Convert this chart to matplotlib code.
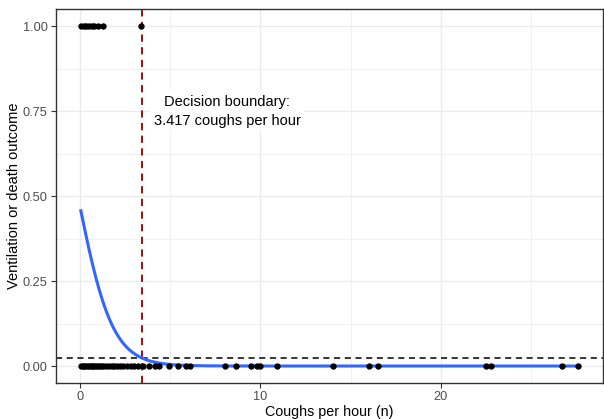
import numpy as np
import matplotlib.pyplot as plt
from matplotlib.ticker import MultipleLocator

plt.rcParams["font.family"] = ["Liberation Sans", "DejaVu Sans"]

# Observed cough rates (per hour) for patients with and without the outcome
coughs_no_event = [0.05, 0.15, 0.25, 0.35, 0.45, 0.55, 0.65, 0.75, 0.85, 0.95,
                   1.05, 1.15, 1.3, 1.45, 1.6, 1.75, 1.9, 2.05, 2.2, 2.4,
                   2.6, 2.8, 3.0, 3.2, 3.5, 3.85, 4.15, 4.4, 4.95, 5.45,
                   5.85, 6.1, 8.05, 8.65, 9.5, 9.8, 10.0, 10.9, 14.0, 16.0,
                   16.5, 22.5, 22.8, 26.7, 27.6]
coughs_event = [0.05, 0.2, 0.35, 0.5, 0.65, 0.8, 1.0, 1.25, 3.4]

# Fitted logistic regression coefficients
intercept = -0.12
slope = -1.05
boundary = 3.417
threshold = 1 / (1 + np.exp(-(intercept + slope * boundary)))

x_ticks = [0, 10, 20]
y_ticks = [0.0, 0.25, 0.5, 0.75, 1.0]
y_ticklabels = ["0.00", "0.25", "0.50", "0.75", "1.00"]

fig = plt.figure(figsize=(6.04, 4.19), dpi=100)
ax = fig.add_axes([56 / 604, 1 - 383 / 419, 547 / 604, 373.7 / 419])

all_x = np.array(coughs_no_event + coughs_event)
xmin, xmax = all_x.min(), all_x.max()
span = xmax - xmin
ax.set_xlim(xmin - 0.05 * span, xmax + 0.05 * span)
ax.set_ylim(-0.05, 1.05)

# grid
ax.set_xticks(x_ticks)
ax.set_yticks(y_ticks)
ax.set_yticklabels(y_ticklabels)
ax.xaxis.set_minor_locator(MultipleLocator(5))
ax.yaxis.set_minor_locator(MultipleLocator(0.125))
ax.grid(which="major", color="#EBEBEB", linewidth=1.0, zorder=0)
ax.grid(which="minor", color="#EBEBEB", linewidth=0.5, zorder=0)
ax.set_axisbelow(True)

# fitted curve
xs = np.linspace(xmin, xmax, 300)
ps = 1 / (1 + np.exp(-(intercept + slope * xs)))
ax.plot(xs, ps, color="#3366FF", linewidth=2.2, zorder=3)

# observations
ax.scatter(coughs_no_event, np.zeros(len(coughs_no_event)), s=21, color="black", zorder=4, linewidths=0)
ax.scatter(coughs_event, np.ones(len(coughs_event)), s=21, color="black", zorder=4, linewidths=0)

# threshold and decision boundary
ax.axhline(threshold, color="black", linestyle=(0, (4, 3)), linewidth=1.1, zorder=2)
ax.axvline(boundary, color="#8B0000", linestyle=(0, (4, 3)), linewidth=1.3, zorder=2)

ax.text(8.15, 0.75, f"Decision boundary:\n{boundary:.3f} coughs per hour",
        ha="center", va="center", fontsize=10.5, color="black", linespacing=1.45,
        bbox=dict(facecolor="white", edgecolor="none", boxstyle="square,pad=0.25"),
        zorder=5)

for s in ax.spines.values():
    s.set_color("#333333")
    s.set_linewidth(1.0)
ax.tick_params(which="major", length=3.5, color="#333333", labelsize=9.2, labelcolor="#4D4D4D", pad=2.5)
ax.tick_params(which="minor", length=0)

ax.set_xlabel("Coughs per hour (n)", fontsize=10.3, labelpad=1)
ax.set_ylabel("Ventilation or death outcome", fontsize=10.5, labelpad=1)

fig.savefig("out.png", dpi=100)
